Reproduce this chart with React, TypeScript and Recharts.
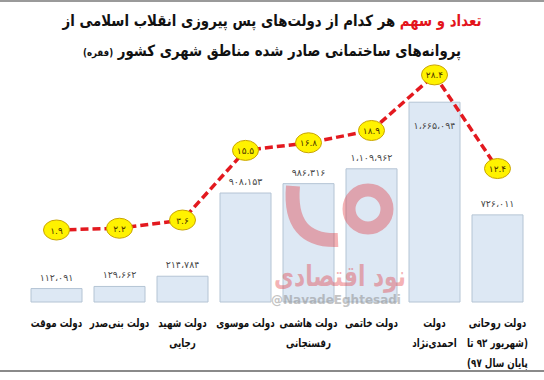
import React from "react";
import {
  ComposedChart, Bar, Line, XAxis, YAxis, LabelList,
} from "recharts";

// دولت‌ها به ترتیب زمانی
const governments = [
  "دولت موقت",
  "دولت بنی‌صدر",
  "دولت شهید|رجایی",
  "دولت موسوی",
  "دولت هاشمی|رفسنجانی",
  "دولت خاتمی",
  "دولت|احمدی‌نژاد",
  "دولت روحانی|(شهریور ۹۲ تا|پایان سال ۹۷)",
];
// تعداد پروانه‌ها (فقره)
const permits = [112091, 129662, 214784, 908153, 986316, 1109962, 1665094, 726011];
// سهم هر دولت (درصد)
const shares = [1.9, 2.2, 3.6, 15.5, 16.8, 18.9, 28.4, 12.4];

const data = governments.map((name, i) => ({ name, permits: permits[i], share: shares[i] }));

const FONT = "'DejaVu Sans', sans-serif";

const faDigits = (s: string) => s.replace(/[0-9]/g, (d) => "۰۱۲۳۴۵۶۷۸۹"[+d]);
const faThousands = (n: number) => faDigits(n.toString().replace(/\B(?=(\d{3})+(?!\d))/g, "،"));

function CategoryTick({ x, y, payload }: any) {
  const lines = String(payload.value).split("|");
  return (
    <g transform={`translate(${x},${y}) scale(0.76,1)`}>
      {lines.map((l, i) => (
        <text key={i} x={0} y={17 + i * 20} textAnchor="middle" fontFamily={FONT}
          fontWeight="bold" fontSize={11.5} fill="#111" direction="rtl">
          {l}
        </text>
      ))}
    </g>
  );
}

function PermitLabel({ x, y, width, value, index }: any) {
  // بلندترین ستون زیر خط است، پس برچسبش داخل ستون می‌نشیند
  const inside = index === permits.indexOf(Math.max(...permits));
  return (
    <text x={x + width / 2} y={inside ? y + 27 : y - 8} textAnchor="middle"
      fontFamily={FONT} fontSize={9.5} fill="#4a4a4a">
      {faThousands(value)}
    </text>
  );
}

function ShareDot({ cx, cy, value }: any) {
  return (
    <g>
      <ellipse cx={cx} cy={cy} rx={13} ry={10} fill="#fff200" stroke="#c9a400" strokeWidth={1} />
      <text x={cx} y={cy + 3.5} textAnchor="middle" fontFamily={FONT} fontSize={9} fill="#4a3300">
        {faDigits(String(value))}
      </text>
    </g>
  );
}

// لوگوی کم‌رنگ نود اقتصادی روی نمودار
function Watermark() {
  return (
    <svg width={544} height={380} style={{ position: "absolute", left: 0, top: 0, pointerEvents: "none" }}>
      <g opacity={0.35}>
        <circle cx={368} cy={209} r={19} fill="none" stroke="#e0262d" strokeWidth={13} />
        <path d="M293 186 Q 288 242 338 240" fill="none" stroke="#e0262d" strokeWidth={14} />
        <g transform="translate(340,286) scale(0.75,1)">
          <text x={0} y={0} textAnchor="middle" fontFamily={FONT} fontWeight="bold" fontSize={29}
            fill="#e0262d" direction="rtl">نود اقتصادی</text>
        </g>
      </g>
      <text x={336} y={304} textAnchor="middle" fontFamily={FONT} fontWeight="bold" fontSize={12}
        fill="#8a8a8a" opacity={0.5}>@NavadeEghtesadi</text>
    </svg>
  );
}

export default function App() {
  return (
    <div style={{ position: "absolute", left: 0, top: 0, width: 544, height: 380, background: "#fff" }}>
      <ComposedChart width={544} height={380} data={data}
        margin={{ top: 62, right: 15, bottom: 0, left: 25 }} style={{ position: "absolute", left: 0, top: 0 }}>
        <XAxis dataKey="name" height={78} axisLine={false} tickLine={false} interval={0} tick={<CategoryTick />} />
        <YAxis yAxisId="permits" hide domain={[0, 2000000]} />
        <YAxis yAxisId="share" hide domain={[-10.4, 30.6]} orientation="right" />
        <Bar yAxisId="permits" dataKey="permits" barSize={51} fill="#dde8f4" stroke="#b4c4d4"
          strokeWidth={1} isAnimationActive={false}>
          <LabelList dataKey="permits" content={<PermitLabel />} />
        </Bar>
        <Line yAxisId="share" type="linear" dataKey="share" stroke="#e3191f" strokeWidth={3.5}
          strokeDasharray="8 4" dot={<ShareDot />} activeDot={false} isAnimationActive={false} />
      </ComposedChart>
      <div style={{
        position: "absolute", left: 0, top: 6, width: 544, textAlign: "center",
        fontFamily: FONT, fontWeight: "bold", fontSize: 15.5, lineHeight: "30px", direction: "rtl", color: "#111",
        transform: "scaleX(0.86)", transformOrigin: "50% 0",
      }}>
        <div><span style={{ color: "#e3141b" }}>تعداد و سهم</span> هر کدام از دولت‌های پس پیروزی  انقلاب اسلامی از</div>
        <div>پروانه‌های ساختمانی صادر شده مناطق شهری کشور <span style={{ fontSize: 10 }}>(فقره)</span></div>
      </div>
      <svg width={544} height={380} style={{ position: "absolute", left: 0, top: 0, pointerEvents: "none" }}>
        <line x1={0} y1={1} x2={544} y2={1} stroke="#9a9a9a" strokeWidth={2} />
        <line x1={0} y1={371} x2={544} y2={371} stroke="#8a8a8a" strokeWidth={2} />
      </svg>
      <Watermark />
    </div>
  );
}
